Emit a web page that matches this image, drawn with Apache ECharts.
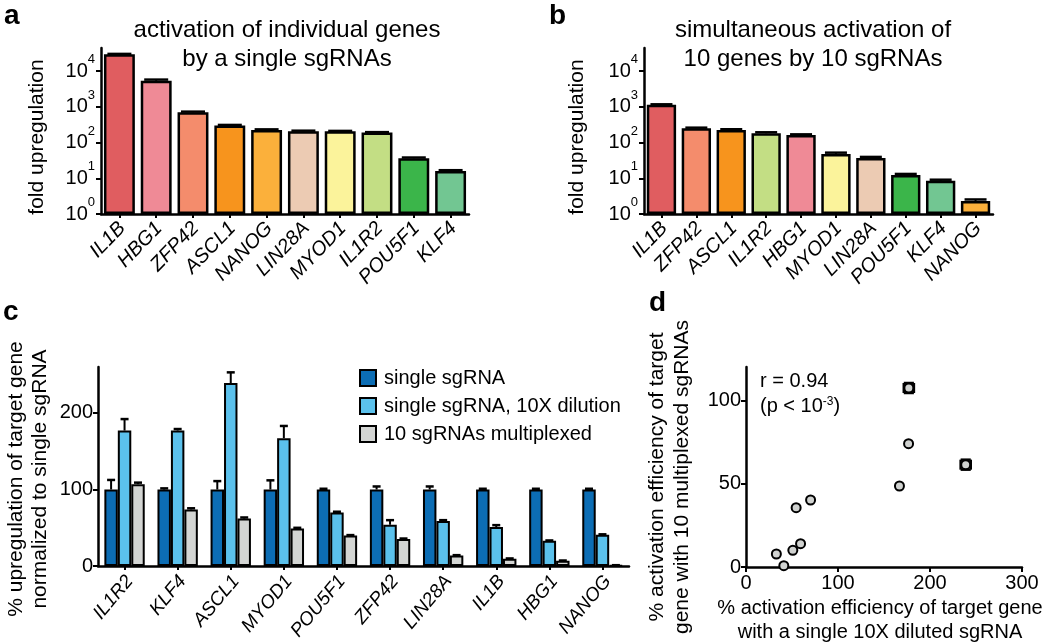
<!DOCTYPE html>
<html><head><meta charset="utf-8">
<script src="https://cdn.jsdelivr.net/npm/echarts@6/dist/echarts.min.js"></script>
<style>html,body{margin:0;padding:0;background:#fff}#c{width:1050px;height:643px}</style>
</head><body><div id="c"></div>
<script>
// ---------- data ----------
const genesA = ['IL1B','HBG1','ZFP42','ASCL1','NANOG','LIN28A','MYOD1','IL1R2','POU5F1','KLF4'];
const valuesA = [29500, 5300, 700, 300, 225, 208, 205, 190, 36, 16];
const errorsA = [600, 450, 30, 10, 8, 6, 6, 5, 2, 0.8];

const genesB = ['IL1B','ZFP42','ASCL1','IL1R2','HBG1','MYOD1','LIN28A','POU5F1','KLF4','NANOG'];
const valuesB = [1130, 250, 225, 181, 163, 48, 37, 12.4, 8.5, 2.3];
const errorsB = [40, 10, 10, 12, 6, 4, 2.5, 0.8, 0.6, 0.25];

const logTicks = [1, 10, 100, 1000, 10000];

const genesC = ['IL1R2','KLF4','ASCL1','MYOD1','POU5F1','ZFP42','LIN28A','IL1B','HBG1','NANOG'];
const singleC = [100, 100, 100, 100, 100, 100, 100, 100, 100, 100];
const singleErrC = [12.5, 1.5, 11, 12, 1, 4, 4, 1, 1, 1];
const dilutedC = [177, 177, 239, 167, 70, 54, 59, 51, 33, 41];
const dilutedErrC = [15, 2, 14, 16, 1, 6, 1, 2.5, 0.5, 0.5];
const multiC = [107, 74, 62, 49, 40, 35.5, 14, 9.5, 7, 1];
const multiErrC = [2, 1.5, 1.5, 1, 0.5, 0.5, 0.3, 0.5, 0.3, 0.2];
const seriesNamesC = ['single sgRNA', 'single sgRNA, 10X dilution', '10 sgRNAs multiplexed'];
const ticksC = [0, 100, 200];

const pointsXD = [177, 176.7, 238.8, 166.8, 70.2, 54.5, 59.3, 50.9, 33, 41.1];
const pointsYD = [107.4, 74, 61.4, 48.6, 40.2, 35.6, 14, 10, 7.8, 0.8];
const errXD = [5.5, 0, 5.5, 0, 0, 0, 0, 0, 0, 0];
const errYD = [3, 0, 3, 0, 0, 0, 0, 0, 0, 0];
const ticksYD = [0, 50, 100];
const ticksXD = [0, 100, 200, 300];

// ---------- styles ----------
const FONT = 'Liberation Sans, Arial, Helvetica, sans-serif';
const geneColors = {
  IL1B: '#e05d60', HBG1: '#ef8a96', ZFP42: '#f48c6c', ASCL1: '#f7941d', NANOG: '#fbb03b',
  LIN28A: '#eccbb3', MYOD1: '#fbf39b', IL1R2: '#c3de84', POU5F1: '#3bb54a', KLF4: '#72c692'
};
const colorsC = ['#0c6db4', '#5bc1ec', '#d3d5d3'];
const axisLineStyle = { show: true, lineStyle: { color: '#000', width: 2.5 } };
const tickStyle = { show: true, length: 5, lineStyle: { color: '#000', width: 2 } };

function logYAxis(gridIndex) {
  return {
    type: 'log', logBase: 10, gridIndex, min: 1, max: 44000,
    axisLine: axisLineStyle,
    axisTick: Object.assign({ customValues: logTicks }, tickStyle),
    splitLine: { show: false },
    axisLabel: {
      customValues: logTicks, margin: 6, color: '#000',
      formatter: v => '{b|10}{s|' + Math.round(Math.log10(v)) + '}',
      rich: {
        b: { fontSize: 20, fontFamily: FONT, color: '#000', padding: [8, 0, 8, 0] },
        s: { fontSize: 13, fontFamily: FONT, color: '#000', verticalAlign: 'top' }
      }
    }
  };
}
function catXAxis(gridIndex, cats, rot, size, margin, shift) {
  return {
    type: 'category', gridIndex, data: cats, boundaryGap: true,
    axisLine: axisLineStyle,
    axisTick: { show: true, alignWithLabel: true, length: 4, lineStyle: { color: '#000', width: 2 } },
    axisLabel: { interval: 0, rotate: rot, margin, color: '#000', fontSize: size, fontStyle: 'italic', fontFamily: FONT,
      padding: [0, -shift, 0, 0] }
  };
}
function barErr(xi, yi, vals, errs, idx, nBars, gapFrac, capW) {
  return {
    type: 'custom', xAxisIndex: xi, yAxisIndex: yi, silent: true, z: 5,
    data: vals.map((v, i) => [i, v, v + errs[i]]),
    renderItem: (params, api) => {
      const i = api.value(0);
      const base = api.coord([i, api.value(1)]);
      const top = api.coord([i, api.value(2)]);
      const cw = Math.abs(api.coord([1, api.value(1)])[0] - api.coord([0, api.value(1)])[0]);
      const bw = cw * (1 - gapFrac) / nBars;
      const x = base[0] + (idx - (nBars - 1) / 2) * bw;
      return { type: 'group', children: [
        { type: 'line', shape: { x1: x, y1: base[1], x2: x, y2: top[1] }, style: { stroke: '#000', lineWidth: 2 } },
        { type: 'line', shape: { x1: x - capW / 2, y1: top[1], x2: x + capW / 2, y2: top[1] }, style: { stroke: '#000', lineWidth: 2.5 } }
      ] };
    }
  };
}
function txt(x, y, text, size, opts) {
  return Object.assign({ type: 'text', x, y, style: Object.assign({
    text, fill: '#000', fontSize: size, fontFamily: FONT, align: 'center', verticalAlign: 'middle'
  }, (opts && opts.style) || {}) }, (opts && opts.el) || {});
}

const chart = echarts.init(document.getElementById('c'), null, { renderer: 'canvas' });
const option = {
  backgroundColor: '#fff',
  animation: false,
  textStyle: { fontFamily: FONT, color: '#000' },
  grid: [
    { left: 101, top: 48, width: 368, height: 166 },
    { left: 644, top: 48, width: 349, height: 166 },
    { left: 98, top: 367, width: 531, height: 200 },
    { left: 746, top: 367, width: 276, height: 200 }
  ],
  xAxis: [
    catXAxis(0, genesA, 46, 20, 14, 4),
    catXAxis(1, genesB, 46, 20, 14, 4),
    catXAxis(2, genesC, 50, 19, 18, 8),
    {
      type: 'value', gridIndex: 3, min: 0, max: 300, interval: 100,
      axisLine: axisLineStyle, axisTick: Object.assign({ customValues: ticksXD }, tickStyle), splitLine: { show: false },
      axisLabel: { customValues: ticksXD, color: '#000', fontSize: 20, fontFamily: FONT, margin: 6 }
    }
  ],
  yAxis: [
    logYAxis(0),
    logYAxis(1),
    {
      type: 'value', gridIndex: 2, min: 0, max: 260,
      axisLine: axisLineStyle, axisTick: Object.assign({ customValues: ticksC }, tickStyle), splitLine: { show: false },
      axisLabel: { customValues: ticksC, color: '#000', fontSize: 20, fontFamily: FONT, margin: 5 }
    },
    {
      type: 'value', gridIndex: 3, min: 0, max: 120,
      axisLine: axisLineStyle, axisTick: Object.assign({ customValues: ticksYD }, tickStyle), splitLine: { show: false },
      axisLabel: { customValues: ticksYD, color: '#000', fontSize: 20, fontFamily: FONT, margin: 5 }
    }
  ],
  legend: {
    left: 354, top: 363, orient: 'vertical', itemWidth: 16, itemHeight: 16, itemGap: 8,
    icon: 'rect', data: seriesNamesC, selectedMode: false,
    itemStyle: { borderColor: '#000', borderWidth: 2 },
    textStyle: { fontSize: 20, fontFamily: FONT, color: '#000', padding: [0, 0, 0, 3] }
  },
  series: [
    {
      type: 'bar', xAxisIndex: 0, yAxisIndex: 0, barCategoryGap: '16%',
      data: valuesA.map((v, i) => ({ value: v, itemStyle: { color: geneColors[genesA[i]] } })),
      itemStyle: { borderColor: '#000', borderWidth: 2.5 }
    },
    barErr(0, 0, valuesA, errorsA, 0, 1, 0.16, 24),
    {
      type: 'bar', xAxisIndex: 1, yAxisIndex: 1, barCategoryGap: '16%',
      data: valuesB.map((v, i) => ({ value: v, itemStyle: { color: geneColors[genesB[i]] } })),
      itemStyle: { borderColor: '#000', borderWidth: 2.5 }
    },
    barErr(1, 1, valuesB, errorsB, 0, 1, 0.16, 22),
    { name: seriesNamesC[0], type: 'bar', xAxisIndex: 2, yAxisIndex: 2, barCategoryGap: '24%', barGap: '0%', data: singleC,
      itemStyle: { color: colorsC[0], borderColor: '#000', borderWidth: 2 } },
    { name: seriesNamesC[1], type: 'bar', xAxisIndex: 2, yAxisIndex: 2, barCategoryGap: '24%', barGap: '0%', data: dilutedC,
      itemStyle: { color: colorsC[1], borderColor: '#000', borderWidth: 2 } },
    { name: seriesNamesC[2], type: 'bar', xAxisIndex: 2, yAxisIndex: 2, barCategoryGap: '24%', barGap: '0%', data: multiC,
      itemStyle: { color: colorsC[2], borderColor: '#000', borderWidth: 2 } },
    barErr(2, 2, singleC, singleErrC, 0, 3, 0.24, 8),
    barErr(2, 2, dilutedC, dilutedErrC, 1, 3, 0.24, 8),
    barErr(2, 2, multiC, multiErrC, 2, 3, 0.24, 8),
    {
      type: 'custom', xAxisIndex: 3, yAxisIndex: 3, silent: true, z: 2,
      data: pointsXD.map((x, i) => [x, pointsYD[i], errXD[i], errYD[i]]),
      renderItem: (params, api) => {
        const x = api.value(0), y = api.value(1), ex = api.value(2), ey = api.value(3);
        if (!ex && !ey) return null;
        const l = api.coord([x - ex, y]), r = api.coord([x + ex, y]);
        const t = api.coord([x, y + ey]), b = api.coord([x, y - ey]);
        const st = { stroke: '#000', lineWidth: 2.5 };
        return { type: 'group', children: [
          { type: 'line', shape: { x1: l[0], y1: t[1], x2: r[0], y2: t[1] }, style: st },
          { type: 'line', shape: { x1: l[0], y1: b[1], x2: r[0], y2: b[1] }, style: st },
          { type: 'line', shape: { x1: l[0], y1: t[1], x2: l[0], y2: b[1] }, style: st },
          { type: 'line', shape: { x1: r[0], y1: t[1], x2: r[0], y2: b[1] }, style: st }
        ] };
      }
    },
    {
      type: 'scatter', xAxisIndex: 3, yAxisIndex: 3, z: 3, symbol: 'circle', symbolSize: 9,
      data: pointsXD.map((x, i) => [x, pointsYD[i]]),
      itemStyle: { color: '#d0d2d0', borderColor: '#000', borderWidth: 2, opacity: 1 }
    }
  ],
  graphic: [
    txt(4, 2, 'a', 28, { style: { fontWeight: 'bold', align: 'left', verticalAlign: 'top' } }),
    txt(549, 2, 'b', 28, { style: { fontWeight: 'bold', align: 'left', verticalAlign: 'top' } }),
    txt(3, 298, 'c', 28, { style: { fontWeight: 'bold', align: 'left', verticalAlign: 'top' } }),
    txt(649, 289, 'd', 28, { style: { fontWeight: 'bold', align: 'left', verticalAlign: 'top' } }),
    txt(287, 45, 'activation of individual genes\nby a single sgRNAs', 24, { style: { lineHeight: 29 } }),
    txt(813, 45, 'simultaneous activation of\n10 genes by 10 sgRNAs', 24, { style: { lineHeight: 29 } }),
    txt(37, 137, 'fold upregulation', 21, { el: { rotation: Math.PI / 2 } }),
    txt(577, 137, 'fold upregulation', 21, { el: { rotation: Math.PI / 2 } }),
    txt(28, 479, '% upregulation of target gene\nnormalized to single sgRNA', 21, { style: { lineHeight: 24 }, el: { rotation: Math.PI / 2 } }),
    txt(670, 477, '% activation efficiency of target\ngene with 10 multiplexed sgRNAs', 21, { style: { lineHeight: 25 }, el: { rotation: Math.PI / 2 } }),
    txt(880, 620, '% activation efficiency of target gene\nwith a single 10X diluted sgRNA', 20, { style: { lineHeight: 24 } }),
    txt(760, 381, 'r = 0.94', 20, { style: { align: 'left' } }),
    txt(760, 406, '(p < 10{s|-3})', 20, { style: { align: 'left', rich: { s: { fontSize: 12, fontFamily: FONT, verticalAlign: 'top', padding: [0, 0, 8, 0] } } } })
  ]
};
chart.setOption(option);
</script>
</body></html>
